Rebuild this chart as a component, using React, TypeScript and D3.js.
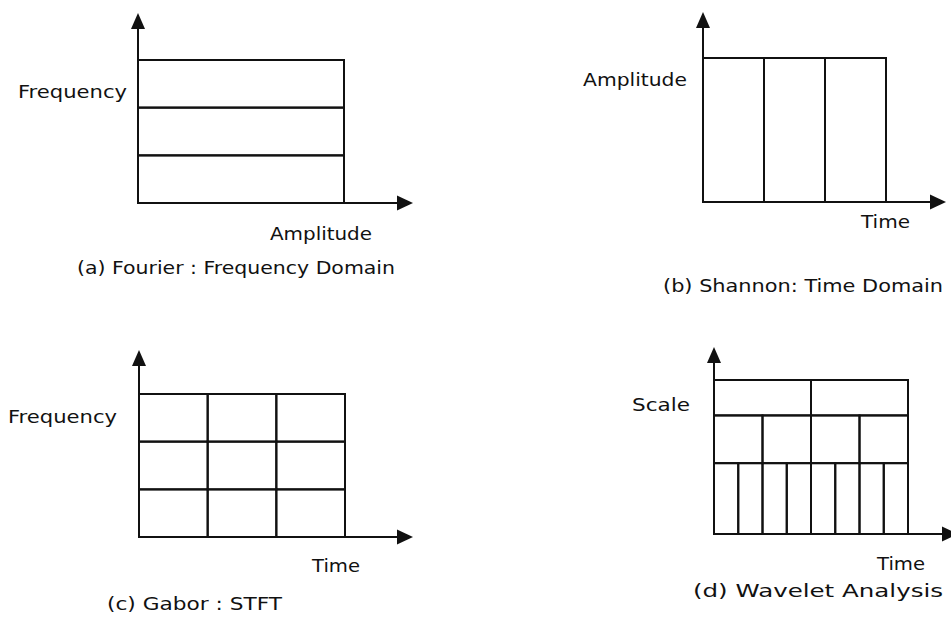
import React from 'react'
import { scaleLinear, range } from 'd3'

// tiling of the time-frequency plane, rows listed bottom -> top
const fourierRowEdges = [0, 0.333, 0.667, 1]
const fourierCols = [1, 1, 1]
const shannonRowEdges = [0, 1]
const shannonCols = [3]
const gaborRowEdges = [0, 0.333, 0.667, 1]
const gaborCols = [3, 3, 3]
const waveletRowEdges = [0, 0.46, 0.77, 1]
const waveletCols = [8, 4, 2]

const yLabels = ['Frequency', 'Amplitude', 'Frequency', 'Scale']
const xLabels = ['Amplitude', 'Time', 'Time', 'Time']
const captions = [
    '(a) Fourier : Frequency Domain',
    '(b) Shannon: Time Domain',
    '(c) Gabor : STFT',
    '(d) Wavelet Analysis',
]

// layout for each panel (pixels)
const panels = [
    { edges: fourierRowEdges, cols: fourierCols, x0: 138, x1: 344, y0: 60, y1: 203, upTip: 13, rightTip: 413,
      yl: [18, 98, 109], xl: [270, 240, 102], cap: [77, 274, 318] },
    { edges: shannonRowEdges, cols: shannonCols, x0: 703, x1: 886, y0: 58, y1: 202, upTip: 12, rightTip: 946,
      yl: [583, 86, 104], xl: [861, 228, 49], cap: [663, 292, 280] },
    { edges: gaborRowEdges, cols: gaborCols, x0: 139, x1: 345, y0: 394, y1: 537, upTip: 350, rightTip: 413,
      yl: [8, 423, 109], xl: [312, 572, 48], cap: [107, 610, 175] },
    { edges: waveletRowEdges, cols: waveletCols, x0: 714, x1: 908, y0: 380, y1: 534, upTip: 347, rightTip: 958,
      yl: [632, 411, 58], xl: [877, 570, 48], cap: [693, 597, 250] },
]

const ink = '#111'
const font = '"DejaVu Sans", sans-serif'

const Label = ({ spec, children }) => (
    <text x={spec[0]} y={spec[1]} textLength={spec[2]} lengthAdjust="spacingAndGlyphs"
        fontSize={17.5} fontFamily={font} fill={ink}>{children}</text>
)

const Panel = ({ p, i }) => {
    const y = scaleLinear().domain([0, 1]).range([p.y1, p.y0])
    const cells = []
    p.cols.forEach((n, r) => {
        const x = scaleLinear().domain([0, n]).range([p.x0, p.x1])
        range(n).forEach(c => {
            cells.push({ key: `${r}-${c}`, x: x(c), w: x(c + 1) - x(c), yTop: y(p.edges[r + 1]), h: y(p.edges[r]) - y(p.edges[r + 1]) })
        })
    })
    const headLen = 16
    const half = 7.5
    return (
        <g>
            {cells.map(d => (
                <rect key={d.key} x={d.x} y={d.yTop} width={d.w} height={d.h} fill="none" stroke={ink} strokeWidth={2} />
            ))}
            {/* axes */}
            <line x1={p.x0} y1={p.y1} x2={p.x0} y2={p.upTip + headLen - 1} stroke={ink} strokeWidth={2} />
            <line x1={p.x0} y1={p.y1} x2={p.rightTip - headLen + 1} y2={p.y1} stroke={ink} strokeWidth={2} />
            <polygon points={`${p.x0},${p.upTip} ${p.x0 - 7},${p.upTip + headLen} ${p.x0 + 7},${p.upTip + headLen}`} fill={ink} />
            <polygon points={`${p.rightTip},${p.y1} ${p.rightTip - headLen},${p.y1 - half} ${p.rightTip - headLen},${p.y1 + half}`} fill={ink} />
            <Label spec={p.yl}>{yLabels[i]}</Label>
            <Label spec={p.xl}>{xLabels[i]}</Label>
            <Label spec={p.cap}>{captions[i]}</Label>
        </g>
    )
}

const App = () => {
    return (
        <svg width={951} height={622} style={{ position: 'absolute', left: 0, top: 0, background: 'white' }}>
            {panels.map((p, i) => <Panel key={i} p={p} i={i} />)}
        </svg>
    )
}

export default App
